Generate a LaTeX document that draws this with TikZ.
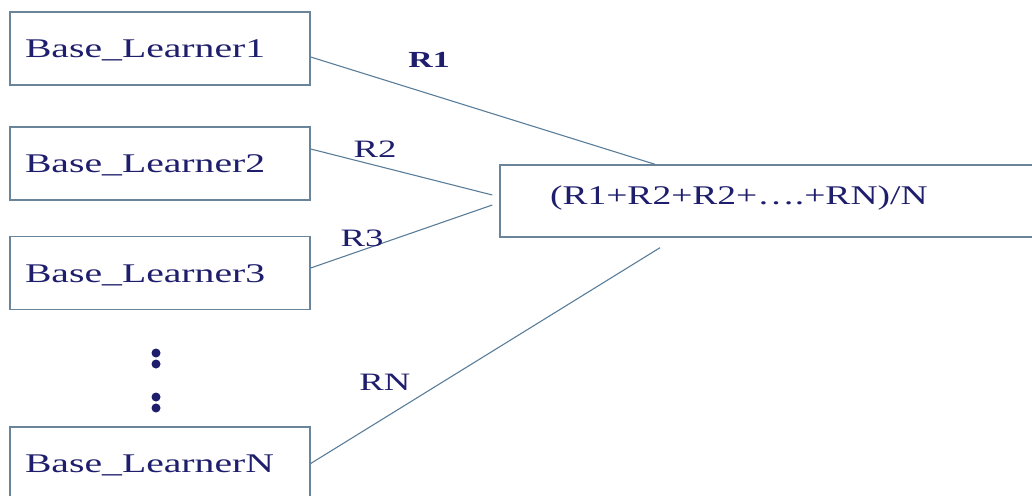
\documentclass[tikz,border=0pt]{standalone}
\usepackage{fontspec}
\setmainfont{Liberation Serif}[FakeStretch=1.47]
\newfontfamily\avgfont{Liberation Serif}[FakeStretch=1.39]
\definecolor{txt}{HTML}{1E1E6C}
\definecolor{edge}{HTML}{6A8499}
\definecolor{conn}{HTML}{5A7D99}
\begin{document}
\begin{tikzpicture}[x=1pt,y=-1pt,
  learner/.style={draw=edge,line width=1.4pt,minimum width=300pt,minimum height=73pt,
    text width=270pt,align=left,inner xsep=15pt,inner ysep=0pt,text height=18pt,text depth=0pt,
    font=\fontsize{27}{30}\selectfont,text=txt},
  avgbox/.style={draw=edge,line width=1.4pt,minimum width=545pt,minimum height=72pt,
    text width=445pt,align=left,inner xsep=50pt,inner ysep=0pt,text height=18pt,text depth=12pt,
    font=\avgfont\fontsize{27}{30}\selectfont,text=txt},
  link/.style={draw=conn,line width=1.1pt},
  rlab/.style={text=txt,font=\fontsize{25}{28}\selectfont,inner sep=0pt},
  vdot/.style={circle,fill=txt,inner sep=0pt,minimum size=9pt}]
\useasboundingbox (0,0) rectangle (1032,495);
\node[learner] (b1) at (160,48.5) {Base\_Learner1};
\node[learner] (b2) at (160,163.5) {Base\_Learner2};
\node[learner] (b3) at (160,273) {Base\_Learner3};
\node[learner] (bn) at (160,463.5) {Base\_LearnerN};
\node[avgbox] (avg) at (772.5,201) {(R1+R2+R2+….+RN)/N};
\node[vdot] (d1) at (156,353) {};
\node[vdot] (d2) at (156,364) {};
\node[vdot] (d3) at (156,397) {};
\node[vdot] (d4) at (156,408) {};
\draw[link] ([yshift=-8.5pt]b1.east) -- ([xshift=-117.5pt]avg.north);
\draw[link] ([yshift=14.5pt]b2.east) -- ([xshift=-7pt,yshift=6pt]avg.west);
\draw[link] ([yshift=5pt]b3.east) -- ([xshift=-7pt,yshift=-4pt]avg.west);
\draw[link] (bn.east) -- ([xshift=-112.5pt,yshift=-10pt]avg.south);
\node[rlab,font=\fontsize{23}{26}\selectfont\bfseries] (l1) at (429,60) {R1};
\node[rlab] (l2) at (375,149) {R2};
\node[rlab] (l3) at (362,238) {R3};
\node[rlab] (ln) at (385,382) {RN};
\end{tikzpicture}
\end{document}
